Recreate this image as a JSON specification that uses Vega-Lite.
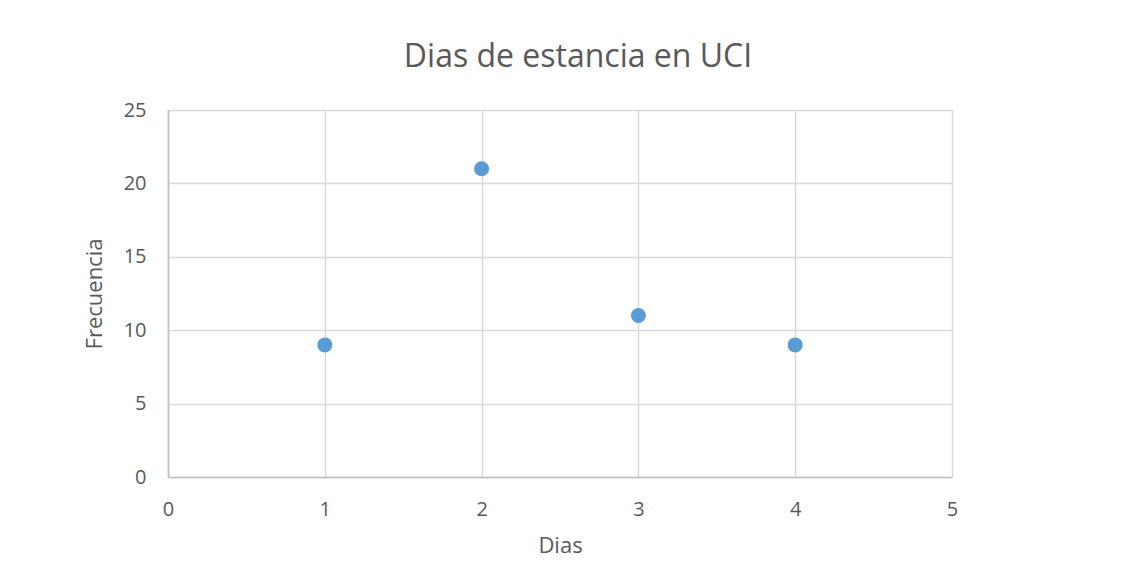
{
  "$schema": "https://vega.github.io/schema/vega-lite/v6.json",
  "autosize": {"type": "none"},
  "width": 784,
  "height": 367,
  "padding": {"left": 168, "top": 110, "right": 186, "bottom": 102},
  "background": "white",
  "config": {
    "view": {"stroke": null},
    "font": "Open Sans",
    "axis": {
      "labelFont": "Open Sans",
      "titleFont": "Open Sans",
      "labelFontSize": 20,
      "titleFontSize": 22,
      "labelColor": "#595959",
      "titleColor": "#595959",
      "titleFontWeight": "normal",
      "gridColor": "#D9D9D9",
      "gridWidth": 1.5,
      "domainColor": "#BFBFBF",
      "domainWidth": 1.5,
      "ticks": false
    }
  },
  "title": {
    "text": "Dias de estancia en UCI",
    "font": "Open Sans",
    "fontSize": 32,
    "fontWeight": "normal",
    "color": "#595959",
    "anchor": "middle",
    "baseline": "alphabetic",
    "dx": 18,
    "offset": 1
  },
  "data": {
    "values": [
      {"Dias": 1, "Frecuencia": 9},
      {"Dias": 2, "Frecuencia": 21},
      {"Dias": 3, "Frecuencia": 11},
      {"Dias": 4, "Frecuencia": 9}
    ]
  },
  "mark": {"type": "point", "filled": true, "shape": "circle", "size": 225, "color": "#5B9BD5", "opacity": 1},
  "encoding": {
    "x": {
      "field": "Dias",
      "type": "quantitative",
      "scale": {"domain": [0, 5], "nice": false},
      "axis": {"values": [0, 1, 2, 3, 4, 5], "labelPadding": 22, "titlePadding": 16, "title": "Dias", "labelFlush": false}
    },
    "y": {
      "field": "Frecuencia",
      "type": "quantitative",
      "scale": {"domain": [0, 25], "nice": false},
      "axis": {"values": [0, 5, 10, 15, 20, 25], "labelPadding": 22, "titlePadding": 17, "title": "Frecuencia", "labelFlush": false}
    }
  }
}
